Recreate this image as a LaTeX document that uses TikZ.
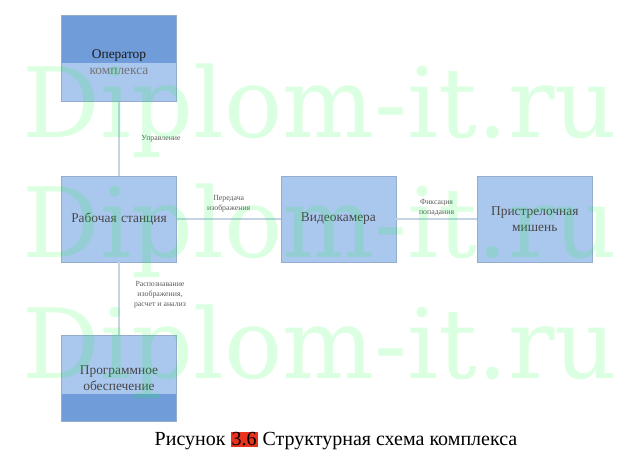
\documentclass[tikz,border=0pt]{standalone}
\usepackage{fontspec}
\setmainfont{Liberation Serif}
\newfontfamily\wmfont{DejaVu Serif}
\usetikzlibrary{positioning}

\definecolor{boxblue}{RGB}{170,199,238}
\definecolor{topblue}{RGB}{112,157,218}
\definecolor{boxline}{RGB}{150,172,205}
\definecolor{linkline}{RGB}{197,211,229}
\definecolor{lbltext}{RGB}{90,90,90}
\definecolor{wmgreen}{RGB}{0,255,40}
\definecolor{markred}{RGB}{232,52,30}

\begin{document}
\begin{tikzpicture}[x=1pt, y=-1pt,
    block/.style={rectangle, draw=boxline, fill=boxblue, minimum width=115pt, minimum height=86pt,
        inner sep=0pt, text width=112pt, align=center, text=black!72,
        font=\fontsize{13.4}{15.5}\selectfont},
    link/.style={draw=linkline, line width=1.3pt},
    lbl/.style={font=\fontsize{7.8}{10}\selectfont, text=lbltext, align=center, inner sep=0pt},
    watermark/.style={font=\wmfont\fontsize{97}{97}\selectfont, text=wmgreen, text opacity=0.14,
        anchor=base, inner sep=0pt},
    node distance=74pt and 104pt
]
\useasboundingbox (0,0) rectangle (632,460);

% blocks
\node [block] (ws) at (119,219) {Рабочая станция};
\node [block, above=of ws, text height=16pt,
    path picture={\fill[topblue] (path picture bounding box.north west) rectangle
        ([yshift=-47pt]path picture bounding box.north east);}] (op)
    {\textcolor{black!90}{Оператор}\\\textcolor{black!55}{комплекса}};
\node [block, right=of ws] (cam) {Видеокамера};
\node [block, right=81pt of cam] (target) {Пристрелочная\\мишень};
\node [block, below=73pt of ws,
    path picture={\fill[topblue] ([yshift=27pt]path picture bounding box.south west) rectangle
        (path picture bounding box.south east);}] (soft)
    {Программное\\обеспечение};

% links
\draw [link] (op) -- (ws) node [lbl, midway, xshift=42pt] {Управление};
\draw [link] (ws) -- (cam) node [lbl, midway, above=6pt] {Передача\\изображения};
\draw [link] (cam) -- (target) node [lbl, midway, above=2pt] {Фиксация\\попадания};
\draw [link] (ws) -- (soft) node [lbl, midway, xshift=41pt, yshift=4pt] {Распознавание\\изображения,\\расчет и анализ};

% caption
\node [font=\fontsize{20}{24}\selectfont, inner sep=0pt] (caption) at (336,441)
    {Рисунок {\setlength{\fboxsep}{1pt}\colorbox{markred}{3.6}} Структурная схема комплекса};

% watermark
\node [watermark] (wm1) at (320,137) {Diplom-it.ru};
\node [watermark] (wm2) at (320,257) {Diplom-it.ru};
\node [watermark] (wm3) at (320,378) {Diplom-it.ru};
\end{tikzpicture}
\end{document}
